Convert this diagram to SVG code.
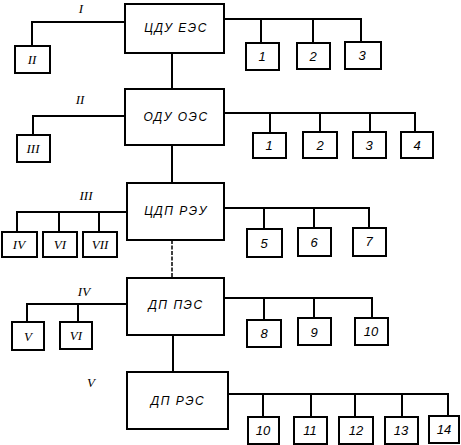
<svg xmlns="http://www.w3.org/2000/svg" width="461" height="445" viewBox="0 0 461 445">
<style>
rect.b{fill:#fff;stroke:#000;stroke-width:2}
.c line,.c polyline{stroke:#000;stroke-width:2;fill:none}
.c .d{stroke-width:1.5;stroke-dasharray:4 1.5}
text{font-family:"Liberation Sans",Arial,sans-serif;font-style:italic;font-size:11px;text-anchor:middle;fill:#000}
.m{font-size:12px;letter-spacing:1.5px}
.r{font-family:"Liberation Serif","Times New Roman",serif;font-size:13px}
.n{font-size:13px}
</style>
<rect width="461" height="445" fill="#fff"/>
<g class="c">
<line x1="172" y1="53" x2="172" y2="89"/>
<line x1="172" y1="145" x2="172" y2="183"/>
<line class="d" x1="172" y1="240" x2="172" y2="278"/>
<line x1="173" y1="335" x2="173" y2="372"/>
<polyline points="125,22 32,22 32,46"/>
<polyline points="224,19 361,19 361,42"/>
<line x1="261" y1="19" x2="261" y2="43"/>
<line x1="313" y1="19" x2="313" y2="43"/>
<polyline points="125,116 33,116 33,135"/>
<polyline points="224,113 415,113 415,132"/>
<line x1="270" y1="113" x2="270" y2="133"/>
<line x1="320" y1="113" x2="320" y2="132"/>
<line x1="370" y1="113" x2="370" y2="132"/>
<polyline points="127,212 17,212 17,232"/>
<line x1="59" y1="212" x2="59" y2="232"/>
<line x1="99" y1="212" x2="99" y2="232"/>
<polyline points="224,208 369,208 369,228"/>
<line x1="264" y1="208" x2="264" y2="229"/>
<line x1="314" y1="208" x2="314" y2="228"/>
<polyline points="127,304 27,304 27,322"/>
<line x1="78" y1="304" x2="78" y2="322"/>
<polyline points="224,298 372,298 372,318"/>
<line x1="264" y1="298" x2="264" y2="320"/>
<line x1="314" y1="298" x2="314" y2="318"/>
<polyline points="228,394 448,394 448,417"/>
<line x1="263" y1="394" x2="263" y2="417"/>
<line x1="311" y1="394" x2="311" y2="417"/>
<line x1="355" y1="394" x2="355" y2="417"/>
<line x1="402" y1="394" x2="402" y2="417"/>
</g>
<text class="r" x="81" y="13">I</text>
<text class="r" x="80" y="104">II</text>
<text class="r" x="86" y="200">III</text>
<text class="r" x="84" y="296">IV</text>
<text class="r" x="91" y="387">V</text>
<g id="n-cdu"><rect class="b" x="125" y="4" width="99" height="49"/><text class="m" x="176" y="32">ЦДУ ЕЭС</text></g>
<g id="n-odu"><rect class="b" x="125" y="89" width="99" height="56"/><text class="m" x="176" y="121">ОДУ ОЭС</text></g>
<g id="n-cdp"><rect class="b" x="127" y="183" width="97" height="57"/><text class="m" x="176" y="215">ЦДП РЭУ</text></g>
<g id="n-dppes"><rect class="b" x="127" y="278" width="97" height="57"/><text class="m" x="176" y="309">ДП ПЭС</text></g>
<g id="n-dpres"><rect class="b" x="127" y="372" width="101" height="57"/><text class="m" x="178" y="405">ДП РЭС</text></g>
<g id="n-I-II"><rect class="b" x="15" y="46" width="35" height="27"/><text class="r" x="32" y="64">II</text></g>
<g id="n-I-1"><rect class="b" x="246" y="43" width="33" height="27"/><text class="n" x="262" y="61">1</text></g>
<g id="n-I-2"><rect class="b" x="297" y="43" width="33" height="26"/><text class="n" x="313" y="61">2</text></g>
<g id="n-I-3"><rect class="b" x="345" y="42" width="36" height="27"/><text class="n" x="362" y="60">3</text></g>
<g id="n-II-III"><rect class="b" x="17" y="135" width="33" height="27"/><text class="r" x="33" y="153">III</text></g>
<g id="n-II-1"><rect class="b" x="253" y="133" width="33" height="25"/><text class="n" x="269" y="150">1</text></g>
<g id="n-II-2"><rect class="b" x="303" y="132" width="34" height="26"/><text class="n" x="320" y="150">2</text></g>
<g id="n-II-3"><rect class="b" x="353" y="132" width="33" height="26"/><text class="n" x="369" y="150">3</text></g>
<g id="n-II-4"><rect class="b" x="401" y="132" width="32" height="26"/><text class="n" x="417" y="150">4</text></g>
<g id="n-III-IV"><rect class="b" x="2" y="232" width="35" height="25"/><text class="r" x="19" y="249">IV</text></g>
<g id="n-III-VI"><rect class="b" x="43" y="232" width="34" height="25"/><text class="r" x="60" y="249">VI</text></g>
<g id="n-III-VII"><rect class="b" x="83" y="232" width="34" height="25"/><text class="r" x="100" y="249">VII</text></g>
<g id="n-III-5"><rect class="b" x="247" y="229" width="35" height="28"/><text class="n" x="264" y="248">5</text></g>
<g id="n-III-6"><rect class="b" x="298" y="228" width="33" height="28"/><text class="n" x="314" y="247">6</text></g>
<g id="n-III-7"><rect class="b" x="353" y="228" width="33" height="28"/><text class="n" x="369" y="246">7</text></g>
<g id="n-IV-V"><rect class="b" x="12" y="322" width="32" height="28"/><text class="r" x="28" y="341">V</text></g>
<g id="n-IV-VI"><rect class="b" x="60" y="322" width="32" height="27"/><text class="r" x="76" y="340">VI</text></g>
<g id="n-IV-8"><rect class="b" x="247" y="320" width="34" height="27"/><text class="n" x="264" y="338">8</text></g>
<g id="n-IV-9"><rect class="b" x="298" y="318" width="33" height="27"/><text class="n" x="314" y="337">9</text></g>
<g id="n-IV-10"><rect class="b" x="355" y="318" width="33" height="27"/><text class="n" x="371" y="336">10</text></g>
<g id="n-V-10"><rect class="b" x="248" y="417" width="31" height="27"/><text class="n" x="263" y="435">10</text></g>
<g id="n-V-11"><rect class="b" x="294" y="417" width="33" height="27"/><text class="n" x="310" y="435">11</text></g>
<g id="n-V-12"><rect class="b" x="339" y="417" width="34" height="27"/><text class="n" x="356" y="435">12</text></g>
<g id="n-V-13"><rect class="b" x="385" y="417" width="33" height="27"/><text class="n" x="401" y="435">13</text></g>
<g id="n-V-14"><rect class="b" x="429" y="416" width="30" height="27"/><text class="n" x="444" y="434">14</text></g>
</svg>
